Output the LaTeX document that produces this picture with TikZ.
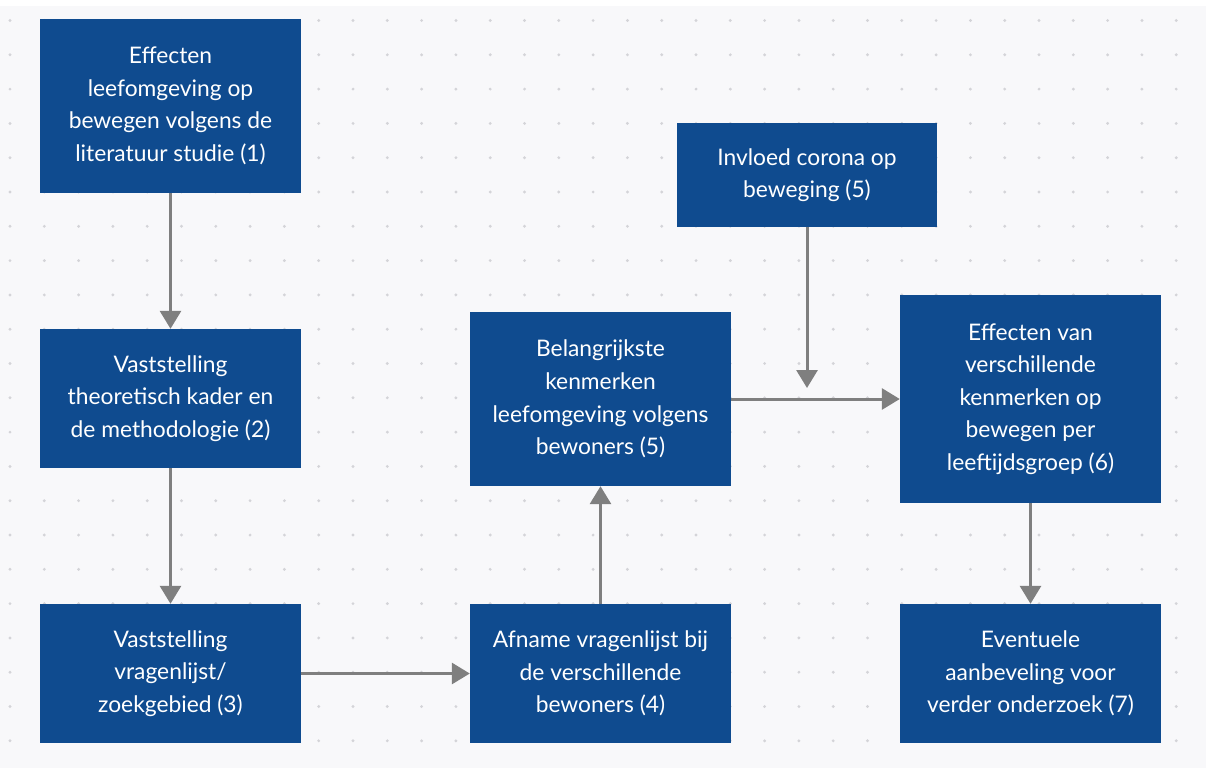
\documentclass[tikz,border=0pt]{standalone}
\usepackage{fontspec}
\setmainfont{Lato}
\usetikzlibrary{arrows.meta}

\definecolor{boxblue}{HTML}{0F4B8F}
\definecolor{linegray}{HTML}{7F7F7F}
\definecolor{dotgray}{HTML}{D4D4D8}
\definecolor{paper}{HTML}{F8F8FA}

\tikzset{
	stepbox/.style={fill=boxblue, text=white, align=center, inner sep=0pt, minimum width=261pt, font=\fontsize{22.8}{32.6}\selectfont},
	flow/.style={draw=linegray, line width=3pt, -{Triangle[length=18pt,width=21pt]}},
}

\begin{document}
\begin{tikzpicture}[x=1pt,y=-1pt]
		
		\useasboundingbox (0,0) rectangle (1206,774);
		\fill[white] (0,0) rectangle (1206,774);
		\fill[paper] (0,6) rectangle (1206,768);
		
		%%%%% Dots %%%%%%
		\foreach \i in {0,...,34}
		\foreach \j in {0,...,21}
		\fill[dotgray] (10+34.3*\i,20.5+34.3*\j) circle (1.6pt);
		
		%%%%% Boxes %%%%%%
		\node[stepbox, minimum height=174pt] (lit) at (170.5,106){Effecten\\leefomgeving op\\bewegen volgens de\\literatuur studie (1)};
		\node[stepbox, minimum height=139pt] (kader) at (170.5,398.5){Vaststelling\\theoretisch kader en\\de methodologie (2)};
		\node[stepbox, minimum height=139pt] (lijst) at (170.5,673.5){Vaststelling\\vragenlijst/\\zoekgebied (3)};
		\node[stepbox, minimum height=139pt] (afname) at (600.5,673.5){Afname vragenlijst bij\\de verschillende\\bewoners (4)};
		\node[stepbox, minimum height=174pt] (kenmerk) at (600.5,399){Belangrijkste\\kenmerken\\leefomgeving volgens\\bewoners (5)};
		\node[stepbox, minimum width=260pt, minimum height=104pt] (corona) at (807,175){Invloed corona op\\beweging (5)};
		\node[stepbox, minimum height=208pt] (effect) at (1030.5,399){Effecten van\\verschillende\\kenmerken op\\bewegen per\\leeftijdsgroep (6)};
		\node[stepbox, minimum height=139pt] (advies) at (1030.5,673.5){Eventuele\\aanbeveling voor\\verder onderzoek (7)};
		\coordinate (join) at (807,388);
		
		%%%%% Arrows %%%%%%
		\draw[flow] (lit)--(kader);
		\draw[flow] (kader)--(lijst);
		\draw[flow] (lijst)--(afname);
		\draw[flow] (afname)--(kenmerk);
		\draw[flow] (kenmerk)--(effect);
		\draw[flow] (corona)--(join);
		\draw[flow] (effect)--(advies);
		
\end{tikzpicture}
\end{document}
